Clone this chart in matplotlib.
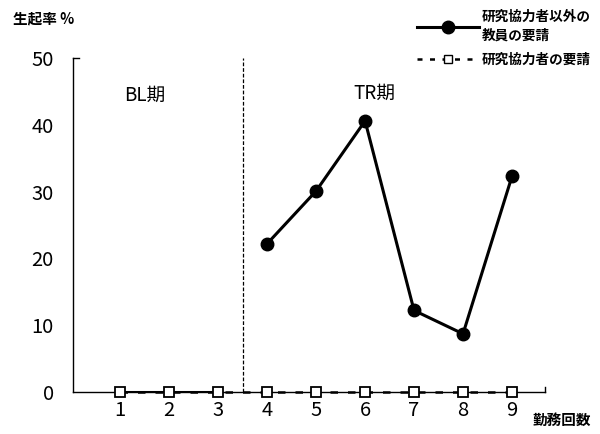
import matplotlib
matplotlib.use("Agg")
import matplotlib.pyplot as plt
from matplotlib.lines import Line2D

plt.rcParams['font.family'] = ['Noto Sans CJK JP', 'DejaVu Sans']

sessions = [1, 2, 3, 4, 5, 6, 7, 8, 9]
bl_sessions = [1, 2, 3]
tr_sessions = [4, 5, 6, 7, 8, 9]
other_teachers_bl = [0, 0, 0]
other_teachers_tr = [22.2, 30.1, 40.6, 12.2, 8.7, 32.3]
collaborator = [0, 0, 0, 0, 0, 0, 0, 0, 0]
yticks = [0, 10, 20, 30, 40, 50]
label_other = "研究協力者以外の\n教員の要請"
label_collab = "研究協力者の要請"

fig = plt.figure(figsize=(6.0, 4.34), dpi=100)
ax = fig.add_axes([0.122, 0.097, 0.786, 0.769])

ax.plot(bl_sessions, other_teachers_bl, color='black', lw=2.2, zorder=3)
ax.plot(tr_sessions, other_teachers_tr, color='black', lw=2.2, marker='o',
        markersize=9, markerfacecolor='black', zorder=4)
ax.plot(sessions, collaborator, color='black', lw=1.8, ls=(0, (3, 4)),
        marker='s', markersize=6.5, markerfacecolor='white',
        markeredgecolor='black', markeredgewidth=1.3, zorder=5, clip_on=False)

ax.axvline(3.5, color='black', lw=0.9, ls=(0, (3, 1.5)), zorder=2)

ax.set_xlim(0.04, 9.67)
ax.set_ylim(0, 50)
ax.set_yticks(yticks)
ax.set_xticks(sessions)
ax.tick_params(axis='both', length=0, labelsize=14.5)
ax.tick_params(axis='y', pad=14)
ax.tick_params(axis='x', pad=6)
for s in ['top', 'right']:
    ax.spines[s].set_visible(False)
for s in ['left', 'bottom']:
    ax.spines[s].set_linewidth(1.0)
# small end marks of the axes
ax.plot([0.04, 0.16], [50, 50], color='black', lw=1.0, clip_on=False)
ax.plot([9.67, 9.67], [0, 0.8], color='black', lw=1.0, clip_on=False)

ax.text(1.5, 44.4, "BL期", fontsize=13.5, ha='center', va='center')
ax.text(6.18, 44.8, "TR期", fontsize=13.5, ha='center', va='center')

fig.text(0.022, 0.958, "生起率 %", fontsize=10.5, fontweight='bold',
         ha='left', va='center')
fig.text(0.888, 0.033, "勤務回数", fontsize=10.5, fontweight='bold',
         ha='left', va='center')

h1 = Line2D([], [], color='black', lw=2.2, marker='o', markersize=9)
h2 = Line2D([], [], color='black', lw=1.8, ls=(0, (2, 3)), marker='s',
            markersize=6, markerfacecolor='white', markeredgecolor='black')
leg = fig.legend([h1, h2], [label_other, label_collab], loc='upper right',
                 bbox_to_anchor=(1.0, 1.0), frameon=False,
                 prop={'size': 9.8, 'weight': 'bold'},
                 handlelength=4.6, handletextpad=0.15, labelspacing=0.75,
                 borderaxespad=0.3)
for t in leg.get_texts():
    t.set_linespacing(1.45)

fig.savefig("out.png", dpi=100)
